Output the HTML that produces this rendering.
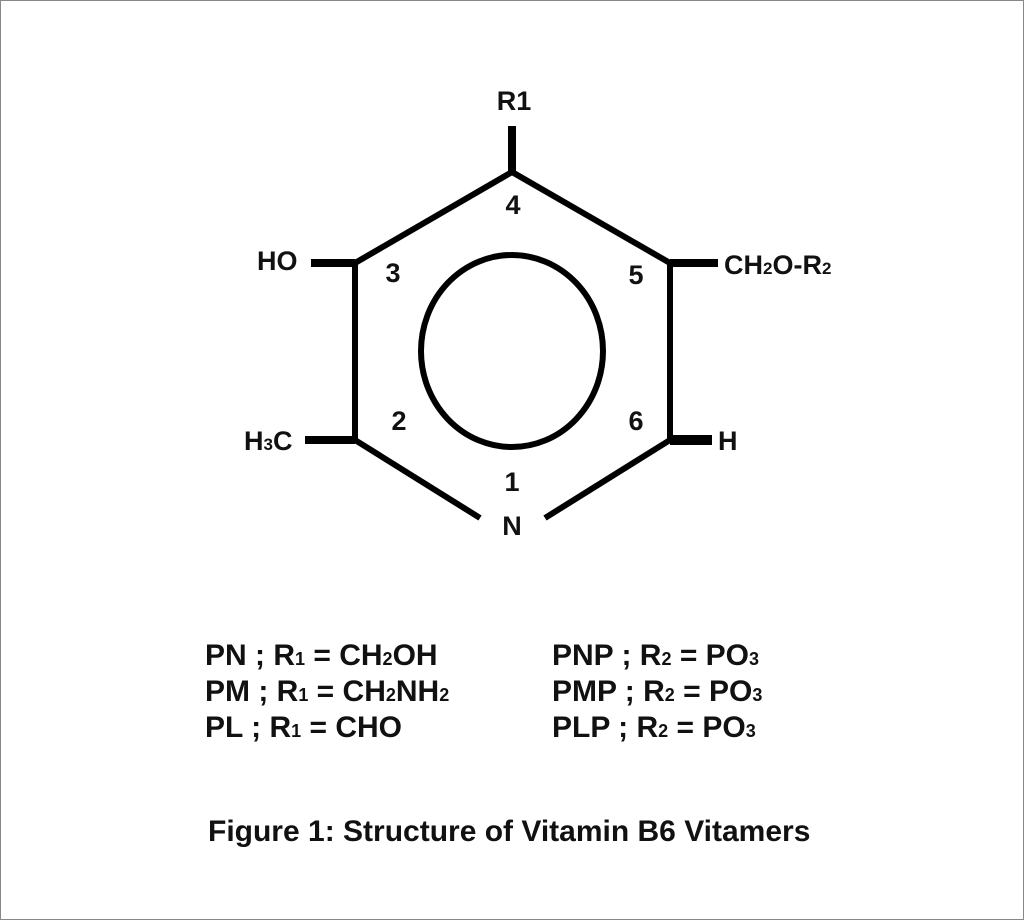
<!DOCTYPE html>
<html><head><meta charset="utf-8"><style>
html,body{margin:0;padding:0;background:#fff}
svg{display:block}
text{font-family:"Liberation Sans",Arial,sans-serif;font-weight:bold;fill:#111}
</style></head><body>
<svg width="1024" height="920" viewBox="0 0 1024 920" xmlns="http://www.w3.org/2000/svg">
<rect x="0.5" y="0.5" width="1023" height="919" fill="#fff" stroke="#888" stroke-width="1"/>
<g stroke="#000" stroke-width="6" fill="none" stroke-linecap="butt">
<polyline points="480,518 355,440 355,263 512,172 670,263 670,440 545,518"/>
<line x1="512" y1="126" x2="512" y2="172" stroke-width="8"/>
<line x1="311" y1="263" x2="355" y2="263" stroke-width="8"/>
<line x1="670" y1="263" x2="718" y2="263" stroke-width="8"/>
<line x1="305" y1="440" x2="355" y2="440" stroke-width="8"/>
<line x1="670" y1="440" x2="712" y2="440" stroke-width="10"/>
<ellipse cx="512" cy="351" rx="91" ry="96"/>
</g>
<g font-size="27" text-anchor="middle">
<text x="514" y="110">R1</text>
<text x="513" y="214">4</text>
<text x="393" y="282">3</text>
<text x="636" y="284">5</text>
<text x="399" y="430">2</text>
<text x="636" y="430">6</text>
<text x="512" y="491">1</text>
<text x="512" y="535">N</text>
</g>
<g font-size="27">
<text x="257" y="270">HO</text>
<text x="724" y="274">CH<tspan font-size="17">2</tspan>O-R<tspan font-size="17">2</tspan></text>
<text x="244" y="450">H<tspan font-size="17">3</tspan>C</text>
<text x="718" y="450">H</text>
</g>
<g font-size="30">
<text x="205" y="665">PN ; R<tspan font-size="18">1</tspan> = CH<tspan font-size="18">2</tspan>OH</text>
<text x="205" y="701">PM ; R<tspan font-size="18">1</tspan> = CH<tspan font-size="18">2</tspan>NH<tspan font-size="18">2</tspan></text>
<text x="205" y="737">PL ; R<tspan font-size="18">1</tspan> = CHO</text>
<text x="552" y="665">PNP ; R<tspan font-size="18">2</tspan> = PO<tspan font-size="18">3</tspan></text>
<text x="552" y="701">PMP ; R<tspan font-size="18">2</tspan> = PO<tspan font-size="18">3</tspan></text>
<text x="552" y="737">PLP ; R<tspan font-size="18">2</tspan> = PO<tspan font-size="18">3</tspan></text>
<text x="208" y="841">Figure 1: Structure of Vitamin B6 Vitamers</text>
</g>
</svg>
</body></html>
